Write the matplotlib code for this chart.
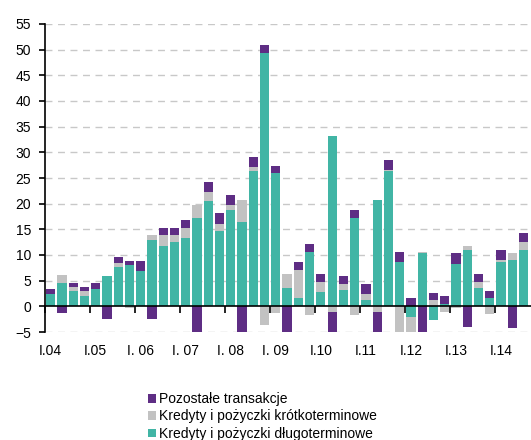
import matplotlib
matplotlib.use("Agg")
import matplotlib.pyplot as plt
import matplotlib.transforms as mtransforms
import numpy as np

plt.rcParams['font.family'] = ['Liberation Sans', 'DejaVu Sans']

# quarterly data, I.04 .. III.14
long_term = [2.5, 4.5, 2.9, 2.1, 3.3, 6.0, 7.6, 8.0, 6.8, 13.0,
             11.8, 12.55, 13.4, 17.3, 20.5, 14.6, 18.85, 16.5, 26.3, 49.3,
             25.9, 3.65, 1.7, 10.6, 2.8, 33.2, 3.25, 17.3, 1.3, 20.8,
             26.3, 8.65, -2.1, 10.3, -2.6, 0.5, 8.3, 11.05, 3.65, 1.7,
             8.65, 9.1, 11.05]
short_term = [0.0, 1.55, 0.8, 0.8, 0.1, 0.0, 0.8, -0.3, 0.0, 0.8,
              2.0, 1.25, 1.9, 2.4, 1.8, 1.5, 0.85, 4.3, 0.9, -3.7,
              -1.3, 2.6, 5.45, -1.75, 1.95, -1.1, 1.15, -1.75, 1.05, -1.1,
              0.35, -5.0, -2.9, 0.3, 1.3, -1.2, -0.3, 0.7, 1.1, -1.4,
              0.45, 1.2, 1.5]
other = [0.8, -1.3, 0.8, 0.8, 1.1, -2.5, 1.2, 0.8, 2.0, -2.5,
         1.55, 1.55, 1.6, -5.0, 1.95, 2.0, 1.9, -5.0, 1.8, 1.6,
         1.5, -5.0, 1.5, 1.5, 1.5, -3.9, 1.6, 1.55, 1.95, -3.9,
         1.95, 1.95, 1.6, -5.0, 1.2, 1.5, 2.0, -4.1, 1.6, 1.2,
         1.95, -4.15, 1.65]
year_labels = ['I.04', 'I.05', 'I. 06', 'I. 07', 'I. 08', 'I. 09',
               'I.10', 'I.11', 'I.12', 'I.13', 'I.14']
series_names = ['Kredyty i pożyczki długoterminowe',
                'Kredyty i pożyczki krótkoterminowe',
                'Pozostałe transakcje']
colors = ['#41B5A5', '#C2C2C2', '#5E2D84']

fig = plt.figure(figsize=(5.31, 4.40), dpi=100)
ax = fig.add_axes([45/531, 108/440, 1 - 45/531, 308/440])

n = len(long_term)
x = np.arange(n)
pos_base = np.zeros(n)
neg_base = np.zeros(n)
handles = []
for vals, col, name in zip([long_term, short_term, other], colors, series_names):
    v = np.array(vals, dtype=float)
    bottoms = np.where(v >= 0, pos_base, neg_base)
    h = ax.bar(x, v, bottom=bottoms, width=0.82, color=col, label=name,
               linewidth=0, zorder=3)
    handles.append(h)
    pos_base = pos_base + np.where(v >= 0, v, 0)
    neg_base = neg_base + np.where(v < 0, v, 0)

ax.set_ylim(-5, 55)
ax.set_xlim(-0.5, 42.66)
ax.set_yticks(np.arange(-5, 56, 5))
for yv in np.arange(-5, 56, 5):
    if yv != 0:
        ax.axhline(yv, color='#C8C8C8', lw=1.0, ls=(0, (5, 4)), zorder=1)

for s in ['top', 'right']:
    ax.spines[s].set_visible(False)
ax.spines['bottom'].set_position(('data', 0))
ax.spines['bottom'].set_zorder(5)
ax.spines['bottom'].set_linewidth(1.2)
ax.spines['left'].set_linewidth(1.2)
ax.set_xticks(np.arange(-0.5, n, 4))
ax.tick_params(axis='x', direction='out', length=5, width=1.2, labelbottom=False)
ax.tick_params(axis='y', direction='out', length=4, width=1.2, pad=6,
               labelsize=10, colors='black')

trans = mtransforms.blended_transform_factory(ax.transData, ax.transAxes)
for i, lab in enumerate(year_labels):
    ax.text(i * 4, -0.062, lab, transform=trans, ha='center', va='center',
            fontsize=10)

fig.legend(handles[::-1], series_names[::-1], loc='upper left',
           bbox_to_anchor=(148/531, 1 - 392/440), frameon=False, fontsize=10,
           handlelength=0.6, handleheight=0.6, handletextpad=0.2,
           labelspacing=0.25, borderpad=0, borderaxespad=0)

fig.savefig('out.png', dpi=100)
